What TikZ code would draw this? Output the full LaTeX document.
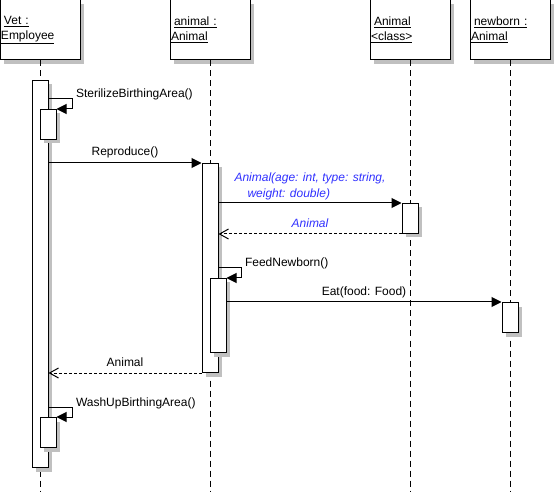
\documentclass[tikz,border=0pt]{standalone}
\usepackage{fontspec}
\setmainfont{Liberation Sans}
\usetikzlibrary{arrows.meta,positioning,shadows}
\definecolor{umlblue}{RGB}{48,48,255}
\definecolor{umlgray}{RGB}{192,192,192}

\begin{document}
\begin{tikzpicture}[x=1pt,y=-1pt,line width=1pt,
    every node/.style={font=\fontsize{12}{15}\selectfont},
    boxshadow/.style={drop shadow={shadow xshift=4pt,shadow yshift=-4pt,
                      fill=umlgray,opacity=1}},
    head/.style={draw,fill=white,boxshadow,minimum width=80pt,minimum height=60pt,
                 text width=78pt,inner xsep=1pt,align=left},
    act/.style={draw,fill=white,boxshadow,minimum width=16pt,inner sep=0pt,anchor=north},
    life/.style={dash pattern=on 6pt off 4pt},
    msg/.style={-{Triangle[length=10pt,width=10pt]}},
    ret/.style={-{Straight Barb[length=9pt,width=10pt]},dash pattern=on 3pt off 2pt},
    lbl/.style={inner sep=0pt,anchor=base,yshift=7pt},
    call/.style={text=umlblue,font=\fontsize{12}{16}\selectfont\itshape}]

  \useasboundingbox (0,0) rectangle (555,492);
  \coordinate (bottom) at (0,492);

  % lifeline heads
  \node[head] (vet)  at ( 40,30) {\hspace*{3pt}\underline{Vet :}\\\underline{Employee}};
  \node[head] (anml) at (210,30) {\hspace*{3pt}\underline{animal :}\\\underline{Animal}};
  \node[head] (cls)  at (410,30) {\hspace*{3pt}\underline{Animal}\\\underline{<class>}};
  \node[head] (newb) at (510,30) {\hspace*{3pt}\underline{newborn :}\\\underline{Animal}};

  \foreach \h in {vet,anml,cls,newb}
    \draw[life] (\h.south) -- (\h.south |- bottom);

  % activations
  \node[act,minimum height=387pt] (vetact)  at ( 40, 80) {};
  \node[act,minimum height=30pt]  (steract) at ( 48,109) {};
  \node[act,minimum height=209pt] (anmlact) at (210,163) {};
  \node[act,minimum height=30pt]  (clsact)  at (410,203) {};
  \node[act,minimum height=74pt]  (feedact) at (218,278) {};
  \node[act,minimum height=30pt]  (newbact) at (510,302) {};
  \node[act,minimum height=30pt]  (washact) at ( 48,417) {};

  % messages
  \draw[msg] (steract.north east -| vetact.east) ++(0,-10) -- ++(24,0)
        node[inner sep=0pt,anchor=base west,xshift=3pt,yshift=1pt] {SterilizeBirthingArea()}
        |- (steract.north east);
  \draw[msg] (anmlact.north west -| vetact.east) -- node[lbl] {Reproduce()}
        (anmlact.north west);
  \draw[msg] (clsact.north west -| anmlact.east) -- node[call,above,inner sep=3pt,align=left]
        {Animal(age: int, type: string,\\\hspace*{13pt}weight: double)} (clsact.north west);
  \draw[ret] (clsact.south west) -- node[call,lbl,yshift=-1pt] {Animal}
        (clsact.south west -| anmlact.east);
  \draw[msg] (feedact.north east -| anmlact.east) ++(0,-10) -- ++(23,0)
        node[inner sep=0pt,anchor=base west,xshift=3pt,yshift=1pt] {FeedNewborn()}
        |- (feedact.north east);
  \draw[msg] (newbact.north west -| feedact.east) -- node[lbl] {Eat(food: Food)}
        (newbact.north west);
  \draw[ret] (anmlact.south west) -- node[lbl] {Animal}
        (anmlact.south west -| vetact.east);
  \draw[msg] (washact.north east -| vetact.east) ++(0,-10) -- ++(24,0)
        node[inner sep=0pt,anchor=base west,xshift=3pt,yshift=1pt] {WashUpBirthingArea()}
        |- (washact.north east);
\end{tikzpicture}
\end{document}
